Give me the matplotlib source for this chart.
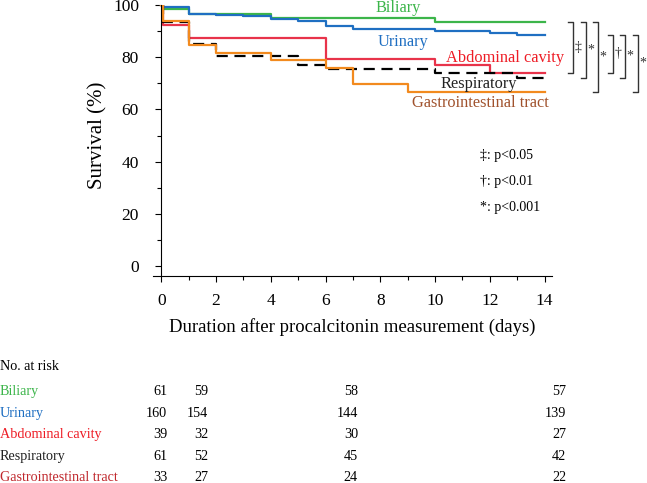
import numpy as np
import matplotlib.pyplot as plt

plt.rcParams['font.family'] = ['Liberation Serif', 'DejaVu Serif']

# Kaplan-Meier steps (time of step, survival after it)
groups = ['Biliary', 'Urinary', 'Abdominal cavity', 'Respiratory', 'Gastrointestinal tract']

biliary_t = [0.07, 1, 4, 10]
biliary_s = [98.4, 96.7, 95.1, 93.4]
urinary_t = [0.07, 1, 2, 3, 4, 5, 6, 7, 10, 12, 13]
urinary_s = [99.2, 96.6, 96.2, 95.6, 94.6, 93.7, 91.8, 90.8, 90.0, 89.4, 88.7]
abdominal_t = [0.07, 1, 6, 10, 12]
abdominal_s = [92.3, 87.2, 79.5, 76.9, 74.0]
respiratory_t = [0.07, 1, 2, 5, 6, 10, 13]
respiratory_s = [93.4, 85.2, 80.3, 77.0, 75.4, 73.8, 72.0]
gi_t = [0.07, 1, 2, 4, 6, 7, 9]
gi_s = [93.9, 84.8, 81.8, 78.8, 75.8, 69.7, 66.7]

times = [biliary_t, urinary_t, abdominal_t, respiratory_t, gi_t]
survs = [biliary_s, urinary_s, abdominal_s, respiratory_s, gi_s]
line_colors = ['#3cb54a', '#1f6fc2', '#e8334a', 'black', '#f28a1e']
label_colors = ['#3cb54a', '#1f6fc2', '#ee1c25', '#222222', '#a0522d']
table_colors = ['#3cb54a', '#1f6fc2', '#ee1c25', '#222222', '#c0282d']

# number at risk
risk_days = ['0', '1', '7', '14']
at_risk = [[61, 59, 58, 57],
           [160, 154, 144, 139],
           [39, 32, 30, 27],
           [61, 52, 45, 42],
           [33, 27, 24, 22]]

# significance brackets (group a, group b, mark)
pairs = [(0, 2, '\u2021'), (0, 3, '*'), (0, 4, '*'),
         (1, 2, '\u2020'), (1, 3, '*'), (1, 4, '*')]

fig = plt.figure(figsize=(6.47, 4.83), dpi=100)
ax = fig.add_axes([153/647, 1-276/483, 399/647, 271/483])

for i in range(len(groups)):
    x = [0] + times[i] + [14]
    y = [100] + survs[i] + [survs[i][-1]]
    ls = (0, (5, 3)) if groups[i] == 'Respiratory' else '-'
    ax.step(x, y, where='post', color=line_colors[i], lw=1.6, ls=ls)

ax.set_xlim(-0.3, 14.27)
ax.set_ylim(-3.8, 100)
ax.spines['top'].set_visible(False)
ax.spines['right'].set_visible(False)
ax.spines['left'].set_position(('data', 0))
ax.spines['left'].set_bounds(-3.8, 100)
ax.set_xticks(np.arange(0, 15, 2))
ax.set_xticks(np.arange(1, 15, 2), minor=True)
ax.set_yticks(np.arange(0, 101, 20))
ax.set_yticks(np.arange(10, 100, 20), minor=True)
ax.tick_params(labelsize=12.5, length=4, width=0.8)
ax.tick_params(which='minor', length=3, width=0.8)
ax.tick_params(axis='x', pad=8)
ax.tick_params(axis='y', pad=12)
ax.set_xlabel('Duration after procalcitonin measurement (days)', fontsize=13.5, labelpad=7)
ax.set_ylabel('Survival (%)', fontsize=15)
ax.yaxis.set_label_coords(-0.115, 0.52)

# curve names
name_pos = [(8.65, 98.7), (8.83, 85.9), (12.55, 79.6), (11.6, 69.6), (11.64, 62.4)]
for i in range(len(groups)):
    ax.text(name_pos[i][0], name_pos[i][1], groups[i], color=label_colors[i],
            fontsize=11.8, ha='center', va='center')

# brackets
bx = [15.05, 15.5, 15.95, 16.5, 16.95, 17.4]
for k, (a, b, mark) in enumerate(pairs):
    y1 = survs[a][-1]
    y2 = survs[b][-1]
    ax.plot([bx[k] - 0.18, bx[k], bx[k], bx[k] - 0.18], [y1, y1, y2, y2],
            color='#333333', lw=1, clip_on=False)
    ax.text(bx[k] + 0.05, (y1 + y2) / 2, mark, fontsize=10, ha='left', va='center',
            color='#333333', clip_on=False)

# p-value key
key = ['\u2021: p<0.05', '\u2020: p<0.01', '*: p<0.001']
for j, t in enumerate(key):
    ax.text(11.64, 42.5 - j * 10.1, t, fontsize=10, ha='left', va='center')

# at-risk table
fig.text(0, 1 - 367/483, 'No. at risk', fontsize=10.2, ha='left', va='center')
col_x = [167, 208, 358, 566]
for i in range(len(groups)):
    yy = 1 - (391.5 + i * 21.6) / 483
    fig.text(0, yy, groups[i], color=table_colors[i], fontsize=10.2, ha='left', va='center')
    for c in range(len(risk_days)):
        fig.text(col_x[c] / 647, yy, str(at_risk[i][c]), fontsize=10.2,
                 ha='right', va='center')

fig.savefig('out.png', dpi=100)
